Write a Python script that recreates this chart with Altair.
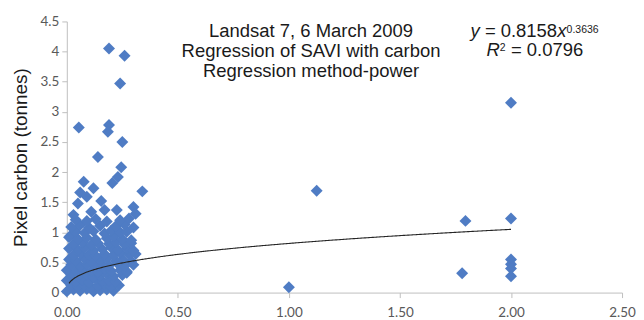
import altair as alt
import pandas as pd

# ---- data ----
# isolated / clearly visible points
out_x = [0.19, 0.26, 0.24, 0.054, 0.19, 0.185, 0.25, 0.14, 0.245, 0.205, 0.23, 0.34,
         0.076, 0.12, 0.06, 0.05, 0.155, 0.09, 0.03, 0.225, 0.30, 0.17, 0.11, 0.31, 0.016,
         1.00, 1.125, 1.795, 1.78, 2.00, 2.00, 2.00, 2.00, 2.00, 2.00]
out_y = [4.05, 3.93, 3.47, 2.74, 2.78, 2.67, 2.50, 2.25, 2.08, 1.82, 1.92, 1.68,
         1.84, 1.73, 1.66, 1.48, 1.52, 1.59, 1.29, 1.37, 1.42, 1.37, 1.34, 1.31, 0.94,
         0.09, 1.69, 1.19, 0.32, 3.15, 1.23, 0.55, 0.47, 0.40, 0.27]

# dense cluster near the origin
cluster_x = [
    0.00, 0.03, 0.06, 0.09, 0.12, 0.15, 0.18, 0.21,
    0.02, 0.05, 0.08, 0.11, 0.14, 0.17, 0.20, 0.235,
    0.00, 0.04, 0.07, 0.10, 0.13, 0.16, 0.19, 0.22,
    0.02, 0.05, 0.09, 0.12, 0.15, 0.18, 0.21, 0.25, 0.27,
    0.00, 0.04, 0.07, 0.11, 0.14, 0.17, 0.20, 0.24, 0.27,
    0.02, 0.06, 0.09, 0.13, 0.16, 0.19, 0.23, 0.26, 0.30,
    0.01, 0.04, 0.08, 0.11, 0.15, 0.18, 0.22, 0.25, 0.29,
    0.03, 0.06, 0.10, 0.13, 0.17, 0.21, 0.24, 0.28, 0.31,
    0.01, 0.05, 0.08, 0.12, 0.16, 0.20, 0.23, 0.27, 0.30,
    0.03, 0.07, 0.11, 0.14, 0.19, 0.22, 0.26, 0.29,
    0.01, 0.05, 0.09, 0.13, 0.18, 0.21, 0.25, 0.29,
    0.04, 0.08, 0.12, 0.17, 0.20, 0.24, 0.27,
    0.02, 0.06, 0.10, 0.15, 0.22, 0.26, 0.30,
    0.04, 0.09, 0.13, 0.18, 0.24, 0.28,
]
cluster_y = [
    0.02, 0.05, 0.03, 0.06, 0.02, 0.04, 0.05, 0.03,
    0.12, 0.10, 0.13, 0.09, 0.11, 0.14, 0.10, 0.12,
    0.20, 0.18, 0.21, 0.17, 0.22, 0.19, 0.20, 0.18,
    0.29, 0.27, 0.30, 0.26, 0.28, 0.31, 0.27, 0.29, 0.33,
    0.37, 0.35, 0.38, 0.36, 0.34, 0.39, 0.36, 0.37, 0.35,
    0.46, 0.44, 0.47, 0.43, 0.46, 0.45, 0.48, 0.44, 0.46,
    0.55, 0.53, 0.56, 0.52, 0.54, 0.57, 0.53, 0.55, 0.52,
    0.62, 0.65, 0.63, 0.61, 0.64, 0.62, 0.66, 0.63, 0.64,
    0.73, 0.71, 0.74, 0.70, 0.72, 0.75, 0.71, 0.73, 0.70,
    0.80, 0.83, 0.79, 0.82, 0.81, 0.84, 0.80, 0.82,
    0.92, 0.89, 0.91, 0.88, 0.90, 0.93, 0.89, 0.87,
    1.01, 0.99, 1.02, 0.98, 1.03, 1.00, 1.01,
    1.09, 1.12, 1.08, 1.11, 1.10, 1.13, 1.08,
    1.21, 1.19, 1.22, 1.18, 1.20, 1.23,
]

x_ticks = [0, 0.5, 1.0, 1.5, 2.0, 2.5]
y_ticks = [0, 0.5, 1, 1.5, 2, 2.5, 3, 3.5, 4, 4.5]

note_lines = ["Landsat 7, 6 March 2009", "Regression of SAVI with carbon", "Regression method-power"]
coef_a = 0.8158
coef_b = 0.3636
r2 = 0.0796

df = pd.DataFrame({"x": out_x + cluster_x, "y": out_y + cluster_y})

BLUE = "#4F7CC4"
TXT = "#1a1a1a"
FONT = "Liberation Sans"

x_enc = alt.X("x:Q", scale=alt.Scale(domain=[0, 2.5], nice=False),
              axis=alt.Axis(title=None, values=x_ticks, format=".2f",
                            labelFlush=False, labelOverlap=False))
y_enc = alt.Y("y:Q", scale=alt.Scale(domain=[0, 4.5], nice=False),
              axis=alt.Axis(title="Pixel carbon (tonnes)", values=y_ticks, format="~g",
                            labelFlush=False, labelOverlap=False,
                            titleFont=FONT, titleFontSize=19, titleFontWeight="normal",
                            titleColor=TXT, titleAngle=-90, titleX=-40, titleY=136,
                            titleAlign="center", titleBaseline="alphabetic"))

points = alt.Chart(df).mark_point(shape="diamond", filled=True, size=144,
                                   color=BLUE, opacity=1).encode(x=x_enc, y=y_enc)

trend = (alt.Chart(alt.sequence(0.01, 2.0001, 0.005, as_="x"))
         .transform_calculate(y=f"{coef_a}*pow(datum.x,{coef_b})")
         .mark_line(color="#262626", strokeWidth=1.1)
         .encode(x=x_enc, y=y_enc))


def txt(s, x, y, size=18.5, align="center", italic=False):
    return alt.Chart(pd.DataFrame({"t": [s]})).mark_text(
        font=FONT, fontSize=size, color=TXT, align=align, baseline="alphabetic",
        fontStyle="italic" if italic else "normal"
    ).encode(text="t:N", x=alt.value(x), y=alt.value(y))


# positions relative to the plot area (plot starts at page x=67, y=21)
texts = [
    txt(note_lines[0], 245, 15.5),
    txt(note_lines[1], 245, 35.5),
    txt(note_lines[2], 245, 55.5),
    # equation  y = 0.8158 x^0.3636
    txt("y", 405, 15.7, align="left", italic=True),
    txt("=", 419.4, 15.7, align="left"),
    txt(f"{coef_a}", 435.3, 15.7, align="left"),
    txt("x", 491.9, 15.7, align="left", italic=True),
    txt(f"{coef_b}", 501.4, 12.0, size=10.5, align="left"),
    # R^2 = 0.0796
    txt("R", 421, 35, align="left", italic=True),
    txt("2", 434.4, 29.5, size=10.5, align="left"),
    txt("=", 445.6, 35, align="left"),
    txt(f"{r2}", 461.5, 35, align="left"),
]

chart = (alt.layer(points, trend, *texts)
         .properties(width=557, height=272,
                     autosize=alt.AutoSizeParams(type="none"),
                     padding={"left": 59, "top": 13, "right": 14, "bottom": 27})
         .configure_view(stroke=None)
         .configure_axis(grid=False, labelFont="Lato", labelFontSize=13.5,
                         labelColor="#595959", tickColor="#bfbfbf", domainColor="#bfbfbf",
                         tickSize=5, domainWidth=1, tickWidth=1)
         .configure_axisX(labelPadding=8)
         .configure_axisY(labelPadding=3))

chart.save("out.html", embed_options={"renderer": "svg", "actions": False})
